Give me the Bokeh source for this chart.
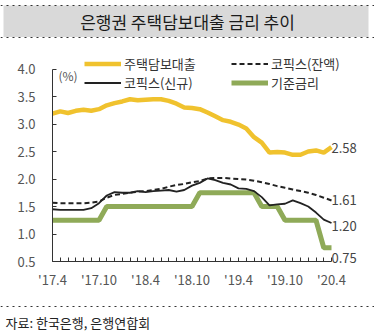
from bokeh.plotting import figure
from bokeh.models import (Range1d, FixedTicker, NumeralTickFormatter, Legend, LegendItem,
                          Label, Span, BoxAnnotation, ColumnDataSource)
from bokeh.core.properties import value
from bokeh.embed import file_html
from bokeh.resources import INLINE

# ---------------- data ----------------
months = list(range(37))  # 2017.4 ... 2020.4
tick_labels = {0: "'17.4", 6: "'17.10", 12: "'18.4", 18: "'18.10",
               24: "'19.4", 30: "'19.10", 36: "'20.4"}
mortgage = [3.19, 3.23, 3.20, 3.24, 3.26, 3.24, 3.27, 3.34, 3.38, 3.41, 3.45, 3.43,
            3.44, 3.45, 3.45, 3.42, 3.37, 3.30, 3.29, 3.27, 3.21, 3.14, 3.07, 3.04,
            2.99, 2.92, 2.76, 2.66, 2.48, 2.49, 2.48, 2.44, 2.44, 2.50, 2.52, 2.48, 2.58]
cofix_new = [1.45, 1.44, 1.44, 1.44, 1.44, 1.47, 1.56, 1.70, 1.76, 1.75, 1.75, 1.78,
             1.76, 1.78, 1.79, 1.80, 1.77, 1.80, 1.88, 1.93, 2.01, 1.98, 1.93, 1.90,
             1.83, 1.82, 1.78, 1.67, 1.52, 1.54, 1.55, 1.61, 1.56, 1.50, 1.39, 1.26, 1.20]
cofix_bal = [1.57, 1.56, 1.56, 1.56, 1.56, 1.57, 1.59, 1.66, 1.71, 1.73, 1.75, 1.77,
             1.78, 1.80, 1.82, 1.86, 1.89, 1.91, 1.94, 1.96, 2.01, 2.02, 2.02, 2.01,
             2.00, 1.99, 1.97, 1.94, 1.91, 1.87, 1.84, 1.81, 1.78, 1.75, 1.71, 1.66, 1.61]
base_rate = [1.25, 1.25, 1.25, 1.25, 1.25, 1.25, 1.25, 1.50, 1.50, 1.50, 1.50, 1.50,
             1.50, 1.50, 1.50, 1.50, 1.50, 1.50, 1.50, 1.75, 1.75, 1.75, 1.75, 1.75,
             1.75, 1.75, 1.75, 1.50, 1.50, 1.50, 1.25, 1.25, 1.25, 1.25, 1.25, 0.75, 0.75]
y_ticks = [0.5, 1.0, 1.5, 2.0, 2.5, 3.0, 3.5, 4.0]
names = ["주택담보대출", "코픽스(신규)", "코픽스(잔액)", "기준금리"]
title_text = "은행권 주택담보대출 금리 추이"
source_text = "자료: 한국은행, 은행연합회"

# ---------------- layout / style ----------------
W, H = 374, 332
X0, DX = 52.0, 7.75     # px of first month, px per month
Y4, DY = 68.5, 55.0     # px of 4.0, px per 1 percentage point
KF = "Noto Sans CJK KR"
YEL, GRN, BLK = "#F0C22E", "#8FAA58", "#222222"


def px2x(px):
    return (px - X0) / DX


def py2y(py):
    return 4.0 - (py - Y4) / DY


p = figure(width=W, height=H, x_range=Range1d(px2x(0), px2x(W)),
           y_range=Range1d(py2y(H), py2y(0)), toolbar_location=None,
           output_backend="svg", min_border=0, min_border_left=0, min_border_right=0,
           min_border_top=0, min_border_bottom=0, outline_line_color=None,
           background_fill_color="white", border_fill_color="white")
p.xgrid.visible = False
p.ygrid.visible = False

xa = p.xaxis[0]
xa.fixed_location = 0.5
xa.bounds = (0, 36)
xa.ticker = FixedTicker(ticks=months)
xa.major_label_overrides = {m: tick_labels.get(m, "") for m in months}
xa.minor_tick_line_color = None
xa.major_tick_in = 4
xa.major_tick_out = 0
xa.axis_line_color = "#333333"
xa.major_tick_line_color = "#333333"
xa.major_label_text_font = KF
xa.major_label_text_font_size = "13px"
xa.major_label_text_color = "#555555"
xa.major_label_standoff = 8

ya = p.yaxis[0]
ya.fixed_location = 0
ya.bounds = (0.5, 4.0)
ya.ticker = FixedTicker(ticks=y_ticks)
ya.formatter = NumeralTickFormatter(format="0.0")
ya.minor_tick_line_color = None
ya.major_tick_in = 4
ya.major_tick_out = 0
ya.axis_line_color = "#333333"
ya.major_tick_line_color = "#333333"
ya.major_label_text_font = KF
ya.major_label_text_font_size = "13px"
ya.major_label_text_color = "#555555"
ya.major_label_standoff = 17

src = ColumnDataSource(dict(m=months, mortgage=mortgage, cofix_new=cofix_new,
                            cofix_bal=cofix_bal, base=base_rate))
r_base = p.line("m", "base", source=src, line_color=GRN, line_width=5)
r_mort = p.line("m", "mortgage", source=src, line_color=YEL, line_width=4.5)
r_bal = p.line("m", "cofix_bal", source=src, line_color=BLK, line_width=2, line_dash="5 3")
r_new = p.line("m", "cofix_new", source=src, line_color=BLK, line_width=1.8)

# end value labels
end_vals = [mortgage[-1], cofix_bal[-1], cofix_new[-1], base_rate[-1]]
end_src = ColumnDataSource(dict(x=[months[-1]] * 4, y=end_vals,
                                t=["%.2f" % v for v in end_vals],
                                dy=[1, 0, 3, 10]))
p.text("x", "y", text="t", source=end_src, y_offset="dy", text_align="left",
       text_baseline="middle", text_font=value(KF), text_font_size="13px",
       text_color="#444444")


def mk_legend(items, left):
    lg = Legend(items=items, location=(left, H - 57.5 - 34), orientation="vertical",
                padding=0, spacing=0, margin=0, glyph_width=37, glyph_height=17,
                label_height=17, label_standoff=3, border_line_color=None,
                background_fill_alpha=0, label_text_font=KF,
                label_text_font_size="13px", label_text_color="#333333")
    p.add_layout(lg)


mk_legend([LegendItem(label=names[0], renderers=[r_mort]),
           LegendItem(label=names[1], renderers=[r_new])], 84)
mk_legend([LegendItem(label=names[2], renderers=[r_bal]),
           LegendItem(label=names[3], renderers=[r_base])], 231)

p.add_layout(Label(x=px2x(58), y=py2y(75), text="(%)", text_baseline="middle",
                   text_font=KF, text_font_size="12px", text_color="#555555"))

# title band
p.add_layout(BoxAnnotation(left=px2x(3), right=px2x(368), top=py2y(5), bottom=py2y(36.5),
                           fill_color="#D9D9D9", fill_alpha=1, line_color=None))
for py in (5, 37):
    p.add_layout(Span(location=py2y(py), dimension="width", line_color="#333333",
                      line_width=1, line_dash="dotted"))
p.add_layout(Label(x=px2x(187), y=py2y(21), text=title_text, text_align="center",
                   text_baseline="middle", text_font=KF, text_font_size="17px",
                   text_color="#1a1a1a"))

# footer
p.add_layout(Span(location=py2y(306), dimension="width", line_color="#333333",
                  line_width=1, line_dash="dotted"))
p.add_layout(Label(x=px2x(5), y=py2y(322), text=source_text, text_baseline="middle",
                   text_font=KF, text_font_size="13px", text_color="#222222"))

open("out.html", "w").write(file_html(p, INLINE))
